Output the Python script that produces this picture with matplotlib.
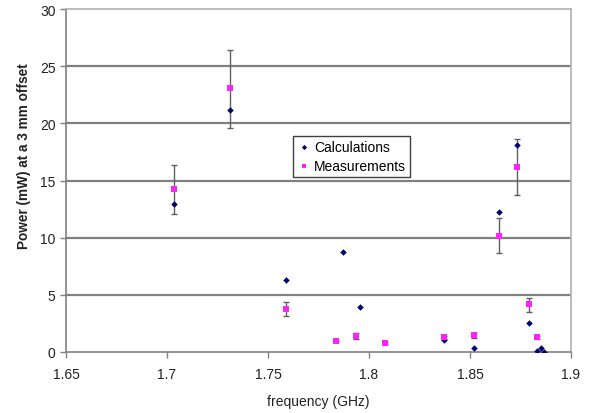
import matplotlib
matplotlib.use("Agg")
import matplotlib.pyplot as plt
import numpy as np

plt.rcParams['font.family'] = ['Liberation Sans', 'DejaVu Sans']

# Calculations
calc_freq = [1.7033, 1.7312, 1.7591, 1.7873, 1.7957, 1.8371, 1.8521, 1.8645, 1.8734, 1.8790, 1.8830, 1.8853, 1.8866]
calc_power = [12.97, 21.13, 6.33, 8.77, 3.91, 1.02, 0.32, 12.22, 18.07, 2.55, 0.08, 0.33, 0.02]

# Measurements with error bars
meas_freq = [1.7033, 1.7312, 1.7591, 1.7838, 1.7936, 1.8078, 1.8371, 1.8521, 1.8644, 1.8734, 1.8790, 1.8834]
meas_power = [14.27, 23.08, 3.78, 0.95, 1.40, 0.76, 1.28, 1.50, 10.18, 16.2, 4.17, 1.27]
meas_low = [12.09, 19.6, 3.18, 0.85, 1.12, 0.66, 1.18, 1.24, 8.65, 13.74, 3.50, 1.17]
meas_high = [16.34, 26.45, 4.35, 1.05, 1.64, 0.86, 1.38, 1.70, 11.73, 18.63, 4.70, 1.37]

x_ticks = [1.65, 1.7, 1.75, 1.8, 1.85, 1.9]
x_tick_labels = ["1.65", "1.7", "1.75", "1.8", "1.85", "1.9"]
y_ticks = [0, 5, 10, 15, 20, 25, 30]

fig = plt.figure(figsize=(5.93, 4.14), dpi=100)
ax = fig.add_axes([66/593, 61/414, 505/593, 343/414])

mp = np.array(meas_power)
yerr = [mp - np.array(meas_low), np.array(meas_high) - mp]
ax.errorbar(meas_freq, meas_power, yerr=yerr, fmt='none', ecolor='#606060',
            elinewidth=1.0, capsize=2.2, capthick=1.0, zorder=3)
ax.scatter(calc_freq, calc_power, marker='D', s=11, color='#000070', zorder=4,
           label='Calculations', linewidths=0)
ax.scatter(meas_freq, meas_power, marker='s', s=13, color='#ff22ff', zorder=5,
           label='Measurements', linewidths=0)

ax.set_xlim(1.65, 1.9)
ax.set_ylim(0, 30)
ax.set_xticks(x_ticks)
ax.set_xticklabels(x_tick_labels)
ax.set_yticks(y_ticks)
ax.tick_params(axis='both', direction='out', length=4, width=1, color='#808080',
               labelsize=10, labelcolor='#222222')
ax.tick_params(axis='x', pad=7)

for y in y_ticks[1:-1]:
    ax.axhline(y, color='#808080', linewidth=1.6, zorder=1)

for s in ['left', 'bottom']:
    ax.spines[s].set_color('#808080')
    ax.spines[s].set_linewidth(1.2)
for s in ['top', 'right']:
    ax.spines[s].set_color('#b0b0b0')
    ax.spines[s].set_linewidth(1.2)

ax.set_xlabel('frequency (GHz)', fontsize=10, color='#222222', labelpad=9)
ax.set_ylabel('Power (mW) at a 3 mm offset', fontsize=9.8, fontweight='bold',
              color='#222222')
ax.yaxis.set_label_coords(-0.07, 0.574)

leg = ax.legend(loc='upper left', bbox_to_anchor=(0.4495, 0.63), fontsize=10,
                frameon=True, fancybox=False, edgecolor='#404040',
                handletextpad=0.2, borderpad=0.3, labelspacing=0.35,
                handlelength=1.0, markerscale=0.8, framealpha=1,
                borderaxespad=0)
leg.get_frame().set_linewidth(1.0)

fig.savefig('out.png', dpi=100)
